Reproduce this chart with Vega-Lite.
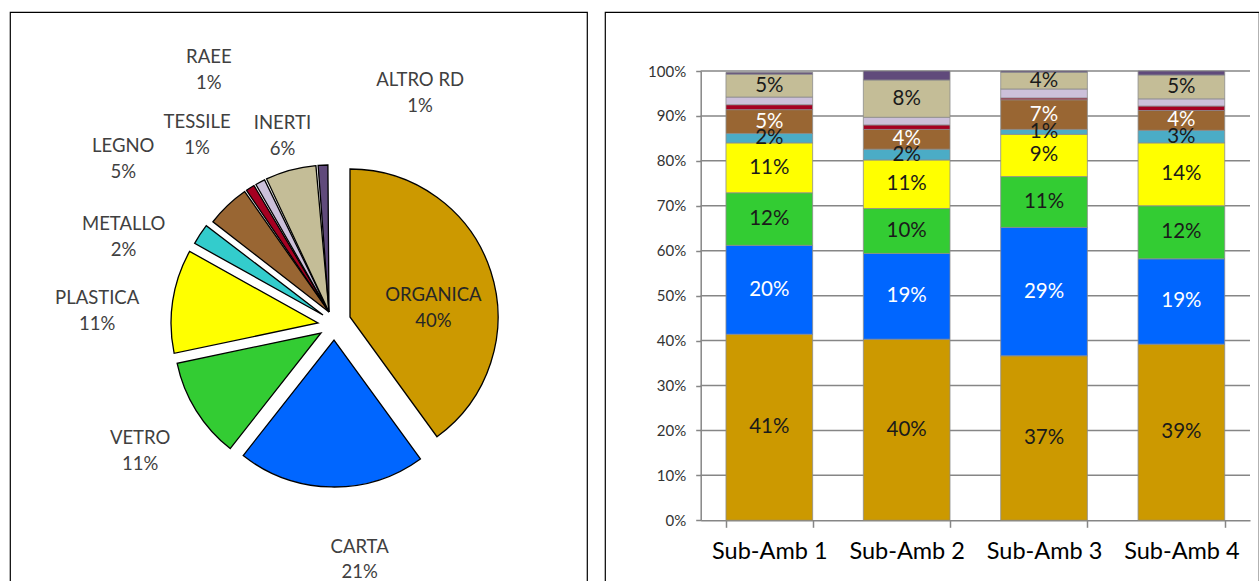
{
  "$schema": "https://vega.github.io/schema/vega-lite/v6.json",
  "padding": {"left": 9, "top": 11, "right": 0, "bottom": 0},
  "background": "white",
  "spacing": 16,
  "config": {
    "view": {"stroke": "#000000", "strokeWidth": 1.2},
    "font": "Lato",
    "text": {"font": "Lato", "fontSize": 18.5, "fill": "#404040", "baseline": "middle", "align": "center"}
  },
  "resolve": {"scale": {"color": "independent", "theta": "independent"}},
  "hconcat": [
    {
      "width": 577,
      "height": 570,
      "view": {"stroke": "#000000", "strokeWidth": 1.2},
      "data": {"values": [
        {"cat": "ORGANICA", "v": 0.400},
        {"cat": "CARTA", "v": 0.206},
        {"cat": "VETRO", "v": 0.111},
        {"cat": "PLASTICA", "v": 0.114},
        {"cat": "METALLO", "v": 0.023},
        {"cat": "LEGNO", "v": 0.050},
        {"cat": "TESSILE", "v": 0.012},
        {"cat": "RAEE", "v": 0.013},
        {"cat": "INERTI", "v": 0.058},
        {"cat": "ALTRO RD", "v": 0.013}
      ]},
      "transform": [
        {"stack": "v", "groupby": [], "as": ["t0", "t1"]},
        {"fold": ["t0", "t1"], "as": ["k", "tt"]},
        {"joinaggregate": [{"op": "mean", "field": "tt", "as": "tm"}], "groupby": ["cat"]},
        {"filter": "datum.k === 't0'"}
      ],
      "layer": [
        {
          "transform": [{"filter": {"field": "cat", "equal": "ORGANICA"}}],
          "mark": {"type": "arc", "outerRadius": 148, "stroke": "#000000", "strokeWidth": 1.3, "x": 340, "y": 305},
          "encoding": {
            "theta": {"field": "t0", "type": "quantitative", "stack": null, "scale": {"domain": [0, 1], "range": [0, 6.283185307]}},
            "theta2": {"field": "t1"},
            "color": {"field": "cat", "type": "nominal", "legend": null, "scale": {"domain": ["ORGANICA", "CARTA", "VETRO", "PLASTICA", "METALLO", "LEGNO", "TESSILE", "RAEE", "INERTI", "ALTRO RD"], "range": ["#CC9900", "#0066FF", "#33CC33", "#FFFF00", "#33CCCC", "#996633", "#A50021", "#CCC0DA", "#C4BD97", "#604A7B"]}}
          }
        },
        {
          "transform": [{"filter": {"field": "cat", "equal": "CARTA"}}],
          "mark": {"type": "arc", "outerRadius": 147, "stroke": "#000000", "strokeWidth": 1.3, "x": 324, "y": 328},
          "encoding": {
            "theta": {"field": "t0", "type": "quantitative", "stack": null},
            "theta2": {"field": "t1"},
            "color": {"field": "cat", "type": "nominal", "legend": null}
          }
        },
        {
          "transform": [{"filter": {"field": "cat", "equal": "VETRO"}}],
          "mark": {"type": "arc", "outerRadius": 147, "stroke": "#000000", "strokeWidth": 1.3, "x": 311, "y": 321},
          "encoding": {
            "theta": {"field": "t0", "type": "quantitative", "stack": null},
            "theta2": {"field": "t1"},
            "color": {"field": "cat", "type": "nominal", "legend": null}
          }
        },
        {
          "transform": [{"filter": {"field": "cat", "equal": "PLASTICA"}}],
          "mark": {"type": "arc", "outerRadius": 147, "stroke": "#000000", "strokeWidth": 1.3, "x": 308, "y": 311},
          "encoding": {
            "theta": {"field": "t0", "type": "quantitative", "stack": null},
            "theta2": {"field": "t1"},
            "color": {"field": "cat", "type": "nominal", "legend": null}
          }
        },
        {
          "transform": [{"filter": {"field": "cat", "equal": "METALLO"}}],
          "mark": {"type": "arc", "outerRadius": 147, "stroke": "#000000", "strokeWidth": 1.3, "x": 313, "y": 303},
          "encoding": {
            "theta": {"field": "t0", "type": "quantitative", "stack": null},
            "theta2": {"field": "t1"},
            "color": {"field": "cat", "type": "nominal", "legend": null}
          }
        },
        {
          "transform": [{"filter": {"field": "cat", "oneOf": ["LEGNO", "TESSILE", "RAEE", "INERTI", "ALTRO RD"]}}],
          "mark": {"type": "arc", "outerRadius": 147, "padAngle": 0.015, "stroke": "#000000", "strokeWidth": 1.3, "x": 319, "y": 300},
          "encoding": {
            "theta": {"field": "t0", "type": "quantitative", "stack": null},
            "theta2": {"field": "t1"},
            "color": {"field": "cat", "type": "nominal", "legend": null}
          }
        },
        {
          "transform": [{"filter": {"field": "cat", "equal": "ORGANICA"}}],
          "encoding": {"theta": {"field": "tm", "type": "quantitative", "stack": null}},
          "layer": [
            {"mark": {"type": "text", "radius": 102, "thetaOffset": 0.206, "x": 322, "y": 307, "dy": -13, "fill": "#262626"}, "encoding": {"text": {"field": "cat"}}},
            {"mark": {"type": "text", "radius": 102, "thetaOffset": 0.206, "x": 322, "y": 307, "dy": 13, "fill": "#262626"}, "encoding": {"text": {"field": "v", "format": ".0%"}}}
          ]
        },
        {
          "transform": [{"filter": {"field": "cat", "equal": "CARTA"}}],
          "encoding": {"theta": {"field": "tm", "type": "quantitative", "stack": null}},
          "layer": [
            {"mark": {"type": "text", "radius": 243, "thetaOffset": -0.133, "x": 322, "y": 307, "dy": -13}, "encoding": {"text": {"field": "cat"}}},
            {"mark": {"type": "text", "radius": 243, "thetaOffset": -0.133, "x": 322, "y": 307, "dy": 12}, "encoding": {"text": {"field": "v", "format": ".0%"}}}
          ]
        },
        {
          "transform": [{"filter": {"field": "cat", "equal": "VETRO"}}],
          "encoding": {"theta": {"field": "tm", "type": "quantitative", "stack": null}},
          "layer": [
            {"mark": {"type": "text", "radius": 233, "thetaOffset": -0.047, "x": 322, "y": 307, "dy": -13}, "encoding": {"text": {"field": "cat"}}},
            {"mark": {"type": "text", "radius": 233, "thetaOffset": -0.047, "x": 322, "y": 307, "dy": 13}, "encoding": {"text": {"field": "v", "format": ".0%"}}}
          ]
        },
        {
          "transform": [{"filter": {"field": "cat", "equal": "PLASTICA"}}],
          "encoding": {"theta": {"field": "tm", "type": "quantitative", "stack": null}},
          "layer": [
            {"mark": {"type": "text", "radius": 235, "thetaOffset": -0.115, "x": 322, "y": 307, "dy": -13}, "encoding": {"text": {"field": "cat"}}},
            {"mark": {"type": "text", "radius": 235, "thetaOffset": -0.115, "x": 322, "y": 307, "dy": 13}, "encoding": {"text": {"field": "v", "format": ".0%"}}}
          ]
        },
        {
          "transform": [{"filter": {"field": "cat", "equal": "METALLO"}}],
          "encoding": {"theta": {"field": "tm", "type": "quantitative", "stack": null}},
          "layer": [
            {"mark": {"type": "text", "radius": 224, "thetaOffset": -0.206, "x": 322, "y": 307, "dy": -13}, "encoding": {"text": {"field": "cat"}}},
            {"mark": {"type": "text", "radius": 224, "thetaOffset": -0.206, "x": 322, "y": 307, "dy": 13}, "encoding": {"text": {"field": "v", "format": ".0%"}}}
          ]
        },
        {
          "transform": [{"filter": {"field": "cat", "equal": "LEGNO"}}],
          "encoding": {"theta": {"field": "tm", "type": "quantitative", "stack": null}},
          "layer": [
            {"mark": {"type": "text", "radius": 263, "thetaOffset": -0.157, "x": 322, "y": 307, "dy": -13}, "encoding": {"text": {"field": "cat"}}},
            {"mark": {"type": "text", "radius": 263, "thetaOffset": -0.157, "x": 322, "y": 307, "dy": 13}, "encoding": {"text": {"field": "v", "format": ".0%"}}}
          ]
        },
        {
          "transform": [{"filter": {"field": "cat", "equal": "TESSILE"}}],
          "encoding": {"theta": {"field": "tm", "type": "quantitative", "stack": null}},
          "layer": [
            {"mark": {"type": "text", "radius": 228, "thetaOffset": -0.068, "x": 322, "y": 307, "dy": -13}, "encoding": {"text": {"field": "cat"}}},
            {"mark": {"type": "text", "radius": 228, "thetaOffset": -0.068, "x": 322, "y": 307, "dy": 13}, "encoding": {"text": {"field": "v", "format": ".0%"}}}
          ]
        },
        {
          "transform": [{"filter": {"field": "cat", "equal": "RAEE"}}],
          "encoding": {"theta": {"field": "tm", "type": "quantitative", "stack": null}},
          "layer": [
            {"mark": {"type": "text", "radius": 278, "thetaOffset": 0.028, "x": 322, "y": 307, "dy": -13}, "encoding": {"text": {"field": "cat"}}},
            {"mark": {"type": "text", "radius": 278, "thetaOffset": 0.028, "x": 322, "y": 307, "dy": 13}, "encoding": {"text": {"field": "v", "format": ".0%"}}}
          ]
        },
        {
          "transform": [{"filter": {"field": "cat", "equal": "INERTI"}}],
          "encoding": {"theta": {"field": "tm", "type": "quantitative", "stack": null}},
          "layer": [
            {"mark": {"type": "text", "radius": 190, "thetaOffset": 0, "x": 322, "y": 307, "dy": -13}, "encoding": {"text": {"field": "cat"}}},
            {"mark": {"type": "text", "radius": 190, "thetaOffset": 0, "x": 322, "y": 307, "dy": 13}, "encoding": {"text": {"field": "v", "format": ".0%"}}}
          ]
        },
        {
          "transform": [{"filter": {"field": "cat", "equal": "ALTRO RD"}}],
          "encoding": {"theta": {"field": "tm", "type": "quantitative", "stack": null}},
          "layer": [
            {"mark": {"type": "text", "radius": 243, "thetaOffset": 0.412, "x": 322, "y": 307, "dy": -13}, "encoding": {"text": {"field": "cat"}}},
            {"mark": {"type": "text", "radius": 243, "thetaOffset": 0.412, "x": 322, "y": 307, "dy": 13}, "encoding": {"text": {"field": "v", "format": ".0%"}}}
          ]
        }
      ]
    },
    {
      "width": 654,
      "height": 570,
      "resolve": {"scale": {"x": "independent"}, "axis": {"x": "independent"}},
      "layer": [
        {
          "data": {"values": [{"g": 0.1}, {"g": 0.2}, {"g": 0.3}, {"g": 0.4}, {"g": 0.5}, {"g": 0.6}, {"g": 0.7}, {"g": 0.8}, {"g": 0.9}, {"g": 1.0}]},
          "mark": {"type": "rule", "color": "#868686", "strokeWidth": 1.5},
          "encoding": {
            "x": {"datum": 0, "type": "quantitative", "scale": {"domain": [0, 1], "range": [95.7, 645]}, "axis": null},
            "x2": {"datum": 1},
            "y": {"field": "g", "type": "quantitative",
              "scale": {"domain": [0, 1], "range": [508.3, 59], "nice": false, "zero": false},
              "axis": {"title": null, "format": ".0%", "values": [0, 0.1, 0.2, 0.3, 0.4, 0.5, 0.6, 0.7, 0.8, 0.9, 1.0], "grid": false, "offset": -95.7, "domainColor": "#868686", "domainWidth": 1.5, "tickColor": "#868686", "tickWidth": 1.5, "tickSize": 5, "labelPadding": 10, "labelFontSize": 15, "labelColor": "#333333", "labelFont": "Lato"}}
          }
        },
        {
          "data": {"values": [
            {"sub": "Sub-Amb 1", "cat": "ORGANICA", "v": 0.414},
            {"sub": "Sub-Amb 1", "cat": "CARTA", "v": 0.198},
            {"sub": "Sub-Amb 1", "cat": "VETRO", "v": 0.117},
            {"sub": "Sub-Amb 1", "cat": "PLASTICA", "v": 0.111},
            {"sub": "Sub-Amb 1", "cat": "METALLO", "v": 0.021},
            {"sub": "Sub-Amb 1", "cat": "LEGNO", "v": 0.053},
            {"sub": "Sub-Amb 1", "cat": "TESSILE", "v": 0.011},
            {"sub": "Sub-Amb 1", "cat": "RAEE", "v": 0.017},
            {"sub": "Sub-Amb 1", "cat": "INERTI", "v": 0.051},
            {"sub": "Sub-Amb 1", "cat": "ALTRO RD", "v": 0.004},
            {"sub": "Sub-Amb 2", "cat": "ORGANICA", "v": 0.403},
            {"sub": "Sub-Amb 2", "cat": "CARTA", "v": 0.191},
            {"sub": "Sub-Amb 2", "cat": "VETRO", "v": 0.100},
            {"sub": "Sub-Amb 2", "cat": "PLASTICA", "v": 0.108},
            {"sub": "Sub-Amb 2", "cat": "METALLO", "v": 0.024},
            {"sub": "Sub-Amb 2", "cat": "LEGNO", "v": 0.044},
            {"sub": "Sub-Amb 2", "cat": "TESSILE", "v": 0.010},
            {"sub": "Sub-Amb 2", "cat": "RAEE", "v": 0.017},
            {"sub": "Sub-Amb 2", "cat": "INERTI", "v": 0.083},
            {"sub": "Sub-Amb 2", "cat": "ALTRO RD", "v": 0.020},
            {"sub": "Sub-Amb 3", "cat": "ORGANICA", "v": 0.366},
            {"sub": "Sub-Amb 3", "cat": "CARTA", "v": 0.286},
            {"sub": "Sub-Amb 3", "cat": "VETRO", "v": 0.113},
            {"sub": "Sub-Amb 3", "cat": "PLASTICA", "v": 0.094},
            {"sub": "Sub-Amb 3", "cat": "METALLO", "v": 0.011},
            {"sub": "Sub-Amb 3", "cat": "LEGNO", "v": 0.066},
            {"sub": "Sub-Amb 3", "cat": "TESSILE", "v": 0.004},
            {"sub": "Sub-Amb 3", "cat": "RAEE", "v": 0.020},
            {"sub": "Sub-Amb 3", "cat": "INERTI", "v": 0.037},
            {"sub": "Sub-Amb 3", "cat": "ALTRO RD", "v": 0.003},
            {"sub": "Sub-Amb 4", "cat": "ORGANICA", "v": 0.392},
            {"sub": "Sub-Amb 4", "cat": "CARTA", "v": 0.190},
            {"sub": "Sub-Amb 4", "cat": "VETRO", "v": 0.118},
            {"sub": "Sub-Amb 4", "cat": "PLASTICA", "v": 0.140},
            {"sub": "Sub-Amb 4", "cat": "METALLO", "v": 0.028},
            {"sub": "Sub-Amb 4", "cat": "LEGNO", "v": 0.044},
            {"sub": "Sub-Amb 4", "cat": "TESSILE", "v": 0.010},
            {"sub": "Sub-Amb 4", "cat": "RAEE", "v": 0.016},
            {"sub": "Sub-Amb 4", "cat": "INERTI", "v": 0.053},
            {"sub": "Sub-Amb 4", "cat": "ALTRO RD", "v": 0.009}
          ]},
          "transform": [
            {"stack": "v", "groupby": ["sub"], "as": ["y0", "y1"]},
            {"fold": ["y0", "y1"], "as": ["k", "yy"]},
            {"joinaggregate": [{"op": "mean", "field": "yy", "as": "ym"}], "groupby": ["sub", "cat"]},
            {"filter": "datum.k === 'y0'"}
          ],
          "encoding": {
            "x": {"field": "sub", "type": "nominal", "sort": null,
              "scale": {"domain": ["Sub-Amb 1", "Sub-Amb 2", "Sub-Amb 3", "Sub-Amb 4"], "range": [95.7, 645], "paddingInner": 0.369, "paddingOuter": 0.184},
              "axis": {"title": null, "labelAngle": 0, "offset": -61.7, "tickBand": "extent", "domainColor": "#868686", "domainWidth": 1.5, "tickColor": "#868686", "tickWidth": 1.5, "tickSize": 7, "labelPadding": 12, "labelFontSize": 23.5, "labelColor": "#000000", "labelFont": "Lato"}}
          },
          "layer": [
            {
              "mark": {"type": "bar", "stroke": "#8c8c8c", "strokeWidth": 0.8},
              "encoding": {
                "y": {"field": "y0", "type": "quantitative",
                  "scale": {"domain": [0, 1], "range": [508.3, 59], "nice": false, "zero": false},
                  "axis": {"title": null, "format": ".0%", "values": [0, 0.1, 0.2, 0.3, 0.4, 0.5, 0.6, 0.7, 0.8, 0.9, 1.0], "grid": false, "offset": -95.7, "domainColor": "#868686", "domainWidth": 1.5, "tickColor": "#868686", "tickWidth": 1.5, "tickSize": 5, "labelPadding": 10, "labelFontSize": 15, "labelColor": "#333333", "labelFont": "Lato"}},
                "y2": {"field": "y1"},
                "color": {"field": "cat", "type": "nominal", "legend": null,
                  "scale": {"domain": ["ORGANICA", "CARTA", "VETRO", "PLASTICA", "METALLO", "LEGNO", "TESSILE", "RAEE", "INERTI", "ALTRO RD"], "range": ["#CC9900", "#0066FF", "#33CC33", "#FFFF00", "#4BACC6", "#996633", "#A50021", "#CCC0DA", "#C4BD97", "#604A7B"]}}
              }
            },
            {
              "transform": [{"filter": {"field": "cat", "oneOf": ["ORGANICA", "CARTA", "VETRO", "PLASTICA", "METALLO", "LEGNO", "INERTI"]}}],
              "mark": {"type": "text", "fontSize": 20.5, "font": "Lato"},
              "encoding": {
                "y": {"field": "ym", "type": "quantitative"},
                "text": {"field": "v", "format": ".0%"},
                "color": {"condition": {"test": "datum.cat === 'CARTA' || datum.cat === 'LEGNO'", "value": "#ffffff"}, "value": "#1a1a1a"}
              }
            }
          ]
        }
      ]
    }
  ]
}
